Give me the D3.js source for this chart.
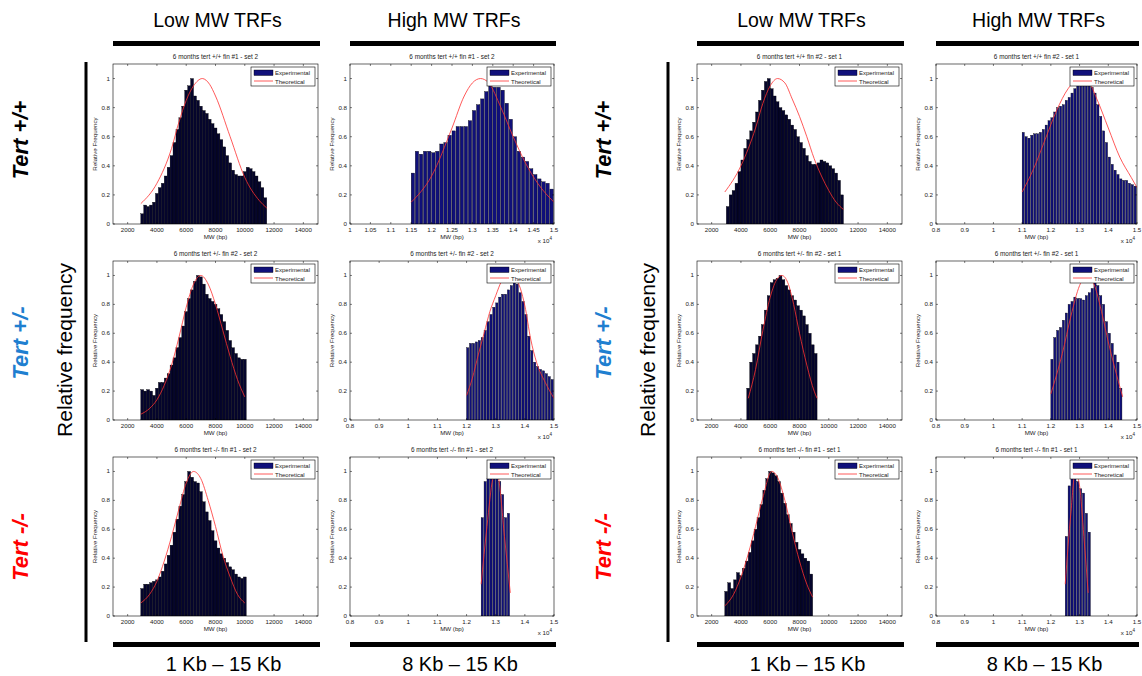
<!DOCTYPE html>
<html>
<head>
<meta charset="utf-8">
<script src="https://cdn.jsdelivr.net/npm/d3@7"></script>
<style>
  body { margin: 0; background: #fff; }
  svg { display: block; font-family: "Liberation Sans", Arial, sans-serif; }
</style>
</head>
<body>
<script>
// ---------- data ----------
// tick values
const lowTicks = [2000, 4000, 6000, 8000, 10000, 12000, 14000];
const highTicks = [8000, 9000, 10000, 11000, 12000, 13000, 14000, 15000];
const highTicksB = [10000, 10500, 11000, 11500, 12000, 12500, 13000, 13500, 14000, 14500, 15000];
const yTicks = [0, 0.2, 0.4, 0.6, 0.8, 1];

// histogram bins: [first bin start (bp), bin width (bp)] and heights
// set 2, tert +/+ fin #1
const binA = [2900, 200];
const expA = [0.07, 0.13, 0.12, 0.13, 0.15, 0.21, 0.25, 0.28, 0.33, 0.39, 0.47, 0.56, 0.65, 0.73, 0.81, 0.92,
  0.95, 1.0, 0.88, 0.85, 0.81, 0.78, 0.76, 0.72, 0.69, 0.66, 0.62, 0.58, 0.53, 0.47, 0.42, 0.37, 0.34, 0.33,
  0.33, 0.36, 0.39, 0.38, 0.36, 0.33, 0.29, 0.25, 0.18];
const thA_x = [2900, 4000, 5000, 5500, 6000, 6500, 7100, 7600, 8000, 9000, 10000, 11000, 11500];
const thA_y = [0.14, 0.28, 0.52, 0.70, 0.85, 0.95, 1.0, 0.96, 0.88, 0.60, 0.32, 0.16, 0.11];

const binB = [11500, 100];
const expB = [0.35, 0.50, 0.48, 0.50, 0.50, 0.49, 0.50, 0.55, 0.56, 0.61, 0.64, 0.67, 0.67, 0.67, 0.71, 0.78,
  0.82, 0.86, 0.91, 0.96, 0.94, 0.94, 0.92, 0.83, 0.72, 0.60, 0.50, 0.46, 0.43, 0.38, 0.34, 0.31, 0.29, 0.28, 0.24];
const thB_x = [11500, 12000, 12500, 12800, 13000, 13200, 13400, 13700, 14000, 14300, 14600, 15000];
const thB_y = [0.15, 0.33, 0.66, 0.88, 0.97, 1.0, 0.97, 0.80, 0.60, 0.42, 0.28, 0.15];

// set 2, tert +/- fin #2
const binC = [2900, 200];
const expC = [0.21, 0.20, 0.21, 0.20, 0.17, 0.22, 0.26, 0.26, 0.29, 0.32, 0.38, 0.43, 0.50, 0.57, 0.65, 0.75,
  0.84, 0.90, 0.96, 1.0, 0.99, 0.94, 0.87, 0.84, 0.82, 0.80, 0.77, 0.73, 0.68, 0.62, 0.55, 0.50, 0.46, 0.43, 0.42, 0.42];
const thC_x = [2900, 3500, 4000, 4500, 5000, 5500, 6000, 6500, 7000, 7500, 8000, 8500, 9000, 9500, 10000];
const thC_y = [0.04, 0.08, 0.14, 0.24, 0.38, 0.57, 0.78, 0.94, 1.0, 0.94, 0.80, 0.62, 0.44, 0.28, 0.16];

const binD = [12000, 100];
const expD = [0.50, 0.53, 0.53, 0.54, 0.55, 0.57, 0.62, 0.68, 0.73, 0.78, 0.81, 0.85, 0.87, 0.87, 0.90, 0.93,
  0.96, 0.94, 0.88, 0.82, 0.73, 0.58, 0.48, 0.40, 0.37, 0.35, 0.34, 0.32, 0.30, 0.28];
const thD_x = [12000, 12200, 12400, 12600, 12800, 13000, 13200, 13400, 13700, 14000, 14200, 14400, 14700, 15000];
const thD_y = [0.17, 0.29, 0.45, 0.60, 0.75, 0.86, 0.96, 1.0, 0.97, 0.79, 0.56, 0.40, 0.26, 0.15];

// set 2, tert -/- fin #1
const binE = [2900, 200];
const expE = [0.19, 0.22, 0.22, 0.23, 0.24, 0.25, 0.27, 0.31, 0.36, 0.42, 0.49, 0.58, 0.67, 0.76, 0.84, 0.93,
  1.0, 0.96, 0.93, 0.92, 0.86, 0.79, 0.72, 0.66, 0.59, 0.52, 0.47, 0.43, 0.40, 0.37, 0.34, 0.32, 0.29, 0.27, 0.26, 0.27];
const thE_x = [2900, 3500, 4000, 4500, 5000, 5500, 6000, 6500, 7000, 7500, 8000, 8500, 9000, 9500, 10000];
const thE_y = [0.09, 0.15, 0.24, 0.38, 0.55, 0.74, 0.92, 1.0, 0.95, 0.80, 0.62, 0.42, 0.27, 0.15, 0.09];

const binF = [12500, 100];
const expF = [0.68, 0.93, 0.95, 0.96, 1.0, 0.97, 0.93, 0.84, 0.68, 0.71];
const thF_x = [12500, 12700, 12900, 13000, 13100, 13300, 13500];
const thF_y = [0.22, 0.62, 0.95, 1.0, 0.95, 0.55, 0.16];

// set 1, tert +/+ fin #2
const binG = [3000, 200];
const expG = [0.12, 0.20, 0.23, 0.28, 0.36, 0.44, 0.52, 0.58, 0.64, 0.70, 0.77, 0.85, 0.92, 0.98, 1.0, 0.93,
  0.88, 0.84, 0.80, 0.78, 0.75, 0.72, 0.68, 0.65, 0.60, 0.56, 0.52, 0.47, 0.43, 0.41, 0.41, 0.42, 0.44, 0.43,
  0.42, 0.40, 0.38, 0.35, 0.30, 0.20];
const thG_x = [2900, 4000, 5000, 5500, 6000, 6500, 7000, 7500, 8000, 8500, 9000, 9500, 10000, 10500, 11000];
const thG_y = [0.22, 0.40, 0.66, 0.83, 0.95, 1.0, 0.97, 0.86, 0.74, 0.60, 0.45, 0.33, 0.23, 0.15, 0.10];

const binH = [11000, 100];
const expH = [0.63, 0.60, 0.59, 0.61, 0.62, 0.62, 0.63, 0.65, 0.68, 0.71, 0.73, 0.77, 0.80, 0.81, 0.82, 0.85,
  0.87, 0.90, 0.93, 0.96, 0.98, 1.0, 0.98, 0.97, 0.94, 0.90, 0.82, 0.74, 0.64, 0.56, 0.46, 0.41, 0.37, 0.34,
  0.31, 0.30, 0.30, 0.28, 0.27, 0.26];
const thH_x = [11000, 11400, 11800, 12200, 12600, 13000, 13300, 13600, 14000, 14400, 14800, 15000];
const thH_y = [0.22, 0.38, 0.58, 0.78, 0.93, 1.0, 0.98, 0.86, 0.66, 0.46, 0.32, 0.25];

// set 1, tert +/- fin #2
const binI = [4400, 200];
const expI = [0.22, 0.40, 0.46, 0.52, 0.58, 0.66, 0.76, 0.86, 0.95, 0.97, 0.98, 1.0, 0.97, 0.93, 0.90, 0.86,
  0.83, 0.79, 0.76, 0.72, 0.66, 0.60, 0.52, 0.46];
const thI_x = [4500, 5000, 5500, 6000, 6500, 6800, 7200, 7600, 8000, 8500, 9000, 9200];
const thI_y = [0.15, 0.35, 0.62, 0.85, 0.98, 1.0, 0.95, 0.80, 0.60, 0.38, 0.20, 0.15];

const binJ = [12000, 100];
const expJ = [0.42, 0.57, 0.62, 0.64, 0.69, 0.74, 0.80, 0.82, 0.85, 0.84, 0.84, 0.83, 0.86, 0.88, 0.91, 0.96,
  0.93, 0.86, 0.80, 0.68, 0.60, 0.53, 0.45, 0.40, 0.22];
const thJ_x = [12000, 12400, 12700, 13000, 13250, 13500, 13800, 14000, 14200, 14500];
const thJ_y = [0.18, 0.46, 0.72, 0.93, 1.0, 0.94, 0.72, 0.54, 0.38, 0.16];

// set 1, tert -/- fin #1
const binK = [2900, 200];
const expK = [0.17, 0.23, 0.19, 0.25, 0.30, 0.28, 0.33, 0.38, 0.44, 0.52, 0.60, 0.68, 0.77, 0.87, 0.95, 1.0,
  0.99, 0.97, 0.93, 0.85, 0.78, 0.70, 0.64, 0.58, 0.51, 0.46, 0.43, 0.40, 0.38, 0.29];
const thK_x = [2900, 3500, 4000, 4500, 5000, 5500, 6100, 6500, 7000, 7500, 8000, 8500, 8900];
const thK_y = [0.07, 0.15, 0.27, 0.43, 0.62, 0.82, 1.0, 0.96, 0.80, 0.58, 0.38, 0.22, 0.13];

const binL = [12500, 100];
const expL = [0.55, 0.90, 1.0, 0.96, 0.93, 0.88, 0.85, 0.71, 0.58];
const thL_x = [12500, 12700, 12850, 13000, 13150, 13300];
const thL_y = [0.22, 0.72, 1.0, 0.90, 0.55, 0.16];

// ---------- layout ----------
const W = 1142, H = 676;
const blocks = [
  { low: [113, 318], high: [350, 554], rowLabelX: 20, relX: 65, lineX: 86 },
  { low: [697, 902], high: [936, 1137], rowLabelX: 603, relX: 648, lineX: 668 }
];
const rows = [[64, 224], [261, 420], [457, 616]];

const panels = [
  { block: 0, row: 0, kind: 'low',  title: '6 months tert +/+ fin #1 - set 2', bin: binA, exp: expA, thx: thA_x, thy: thA_y },
  { block: 0, row: 0, kind: 'high', title: '6 months tert +/+ fin #1 - set 2', bin: binB, exp: expB, thx: thB_x, thy: thB_y, domain: [10000, 15000], ticks: highTicksB },
  { block: 0, row: 1, kind: 'low',  title: '6 months tert +/- fin #2 - set 2', bin: binC, exp: expC, thx: thC_x, thy: thC_y },
  { block: 0, row: 1, kind: 'high', title: '6 months tert +/- fin #2 - set 2', bin: binD, exp: expD, thx: thD_x, thy: thD_y },
  { block: 0, row: 2, kind: 'low',  title: '6 months tert -/- fin #1 - set 2', bin: binE, exp: expE, thx: thE_x, thy: thE_y },
  { block: 0, row: 2, kind: 'high', title: '6 months tert -/- fin #1 - set 2', bin: binF, exp: expF, thx: thF_x, thy: thF_y },
  { block: 1, row: 0, kind: 'low',  title: '6 months tert +/+ fin #2 - set 1', bin: binG, exp: expG, thx: thG_x, thy: thG_y },
  { block: 1, row: 0, kind: 'high', title: '6 months tert +/+ fin #2 - set 1', bin: binH, exp: expH, thx: thH_x, thy: thH_y },
  { block: 1, row: 1, kind: 'low',  title: '6 months tert +/- fin #2 - set 1', bin: binI, exp: expI, thx: thI_x, thy: thI_y },
  { block: 1, row: 1, kind: 'high', title: '6 months tert +/- fin #2 - set 1', bin: binJ, exp: expJ, thx: thJ_x, thy: thJ_y },
  { block: 1, row: 2, kind: 'low',  title: '6 months tert -/- fin #1 - set 1', bin: binK, exp: expK, thx: thK_x, thy: thK_y },
  { block: 1, row: 2, kind: 'high', title: '6 months tert -/- fin #1 - set 1', bin: binL, exp: expL, thx: thL_x, thy: thL_y }
];

const svg = d3.select('body').append('svg').attr('width', W).attr('height', H);

function drawPanel(p, idx) {
  const b = blocks[p.block];
  const [x0, x1] = p.kind === 'low' ? b.low : b.high;
  const [y0, y1] = rows[p.row];
  const dom = p.kind === 'low' ? [1000, 15000] : (p.domain || [8000, 15000]);
  const ticks = p.kind === 'low' ? lowTicks : (p.ticks || highTicks);
  const x = d3.scaleLinear().domain(dom).range([x0, x1]);
  const y = d3.scaleLinear().domain([0, 1.1]).range([y1, y0]);
  const g = svg.append('g');
  const clipId = 'clip' + idx;
  g.append('clipPath').attr('id', clipId).append('rect')
    .attr('x', x0).attr('y', y0).attr('width', x1 - x0).attr('height', y1 - y0);

  // experimental histogram
  const bars = p.exp.map((v, i) => ({ x: p.bin[0] + i * p.bin[1], v: v }));
  const gap = p.kind === 'low' ? 0 : 0.7;
  g.append('g').attr('clip-path', `url(#${clipId})`)
    .selectAll('rect').data(bars).join('rect')
    .attr('x', d => x(d.x))
    .attr('width', d => Math.max(0.4, x(d.x + p.bin[1]) - x(d.x) - gap))
    .attr('y', d => y(d.v))
    .attr('height', d => y(0) - y(d.v))
    .attr('fill', p.kind === 'low' ? '#05052c' : '#10107a')
    .attr('stroke', '#000')
    .attr('stroke-width', 0.35);

  // theoretical curve
  const line = d3.line().x(d => x(d[0])).y(d => y(d[1])).curve(d3.curveMonotoneX);
  g.append('path').datum(d3.zip(p.thx, p.thy))
    .attr('d', line).attr('fill', 'none')
    .attr('stroke', '#ff3030').attr('stroke-width', 0.8)
    .attr('clip-path', `url(#${clipId})`);

  // axes box + inward ticks on all sides
  g.append('rect').attr('x', x0).attr('y', y0).attr('width', x1 - x0).attr('height', y1 - y0)
    .attr('fill', 'none').attr('stroke', '#000').attr('stroke-width', 0.6);
  const tk = g.append('g').attr('stroke', '#000').attr('stroke-width', 0.5);
  ticks.forEach(t => {
    tk.append('line').attr('x1', x(t)).attr('x2', x(t)).attr('y1', y1).attr('y2', y1 - 2);
    tk.append('line').attr('x1', x(t)).attr('x2', x(t)).attr('y1', y0).attr('y2', y0 + 2);
  });
  yTicks.forEach(t => {
    tk.append('line').attr('x1', x0).attr('x2', x0 + 2).attr('y1', y(t)).attr('y2', y(t));
    tk.append('line').attr('x1', x1).attr('x2', x1 - 2).attr('y1', y(t)).attr('y2', y(t));
  });

  const fs = 6.2;
  const fmt = t => p.kind === 'low' ? String(t) : String(+(t / 10000).toFixed(2));
  g.append('g').selectAll('text').data(ticks).join('text')
    .attr('x', d => x(d)).attr('y', y1 + 8)
    .attr('text-anchor', 'middle').attr('font-size', fs).attr('fill', '#222')
    .text(fmt);
  g.append('g').selectAll('text').data(yTicks).join('text')
    .attr('x', x0 - 3).attr('y', d => y(d) + 2)
    .attr('text-anchor', 'end').attr('font-size', fs).attr('fill', '#222')
    .text(d => String(d));

  // title, axis labels
  g.append('text').attr('x', (x0 + x1) / 2).attr('y', y0 - 5)
    .attr('text-anchor', 'middle').attr('font-size', 6.4).attr('fill', '#222').text(p.title);
  g.append('text').attr('x', (x0 + x1) / 2).attr('y', y1 + 15)
    .attr('text-anchor', 'middle').attr('font-size', fs).attr('fill', '#222').text('MW (bp)');
  g.append('text').attr('transform', `translate(${x0 - 16},${(y0 + y1) / 2}) rotate(-90)`)
    .attr('text-anchor', 'middle').attr('font-size', fs).attr('fill', '#222').text('Relative Frequency');
  if (p.kind === 'high') {
    const e = g.append('text').attr('x', x1 - 2).attr('y', y1 + 19)
      .attr('text-anchor', 'end').attr('font-size', fs).attr('fill', '#222');
    e.append('tspan').text('x 10');
    e.append('tspan').attr('dy', -3).attr('font-size', 4.5).text('4');
  }

  // legend
  const lw = 64, lh = 19;
  const lx = x1 - lw - 3, ly = y0 + 3;
  const lg = g.append('g');
  lg.append('rect').attr('x', lx).attr('y', ly).attr('width', lw).attr('height', lh)
    .attr('fill', '#fff').attr('stroke', '#000').attr('stroke-width', 0.6);
  lg.append('rect').attr('x', lx + 3).attr('y', ly + 3).attr('width', 19).attr('height', 5.5)
    .attr('fill', '#10107a').attr('stroke', '#000').attr('stroke-width', 0.4);
  lg.append('line').attr('x1', lx + 3).attr('x2', lx + 22).attr('y1', ly + 14).attr('y2', ly + 14)
    .attr('stroke', '#ff3030').attr('stroke-width', 0.8);
  lg.append('text').attr('x', lx + 24).attr('y', ly + 8).attr('font-size', 6).attr('fill', '#222').text('Experimental');
  lg.append('text').attr('x', lx + 24).attr('y', ly + 16.5).attr('font-size', 6).attr('fill', '#222').text('Theoretical');
}

panels.forEach(drawPanel);

// ---------- figure annotations ----------
const rowLabels = [
  { text: 'Tert +/+', color: '#000000', y: 140 },
  { text: 'Tert +/-', color: '#1f7fd0', y: 343 },
  { text: 'Tert -/-', color: '#ff0000', y: 547 }
];
blocks.forEach(b => {
  // column headers and bars
  [[b.low, 'Low MW TRFs', '1 Kb \u2013 15 Kb'], [b.high, 'High MW TRFs', '8 Kb \u2013 15 Kb']].forEach(([r, head, foot]) => {
    const cx = (r[0] + r[1]) / 2;
    svg.append('text').attr('x', cx + 2).attr('y', 27).attr('text-anchor', 'middle')
      .attr('font-size', 19.5).attr('fill', '#000').text(head);
    svg.append('rect').attr('x', r[0]).attr('y', 41).attr('width', r[1] - r[0] + 2).attr('height', 5).attr('fill', '#000');
    svg.append('rect').attr('x', r[0]).attr('y', 642).attr('width', r[1] - r[0] + 2).attr('height', 5).attr('fill', '#000');
    svg.append('text').attr('x', cx + 8).attr('y', 671).attr('text-anchor', 'middle')
      .attr('font-size', 20).attr('fill', '#000').text(foot);
  });
  // vertical bar
  svg.append('rect').attr('x', b.lineX - 1.5).attr('y', 62).attr('width', 3).attr('height', 580).attr('fill', '#000');
  // y label
  svg.append('text').attr('transform', `translate(${b.relX + 7},350) rotate(-90)`)
    .attr('text-anchor', 'middle').attr('font-size', 21).attr('fill', '#000').text('Relative frequency');
  rowLabels.forEach(r => {
    svg.append('text').attr('transform', `translate(${b.rowLabelX + 8},${r.y}) rotate(-90)`)
      .attr('text-anchor', 'middle').attr('font-size', 22).attr('font-weight', 'bold')
      .attr('font-style', 'italic').attr('fill', r.color).text(r.text);
  });
});
</script>
</body>
</html>
